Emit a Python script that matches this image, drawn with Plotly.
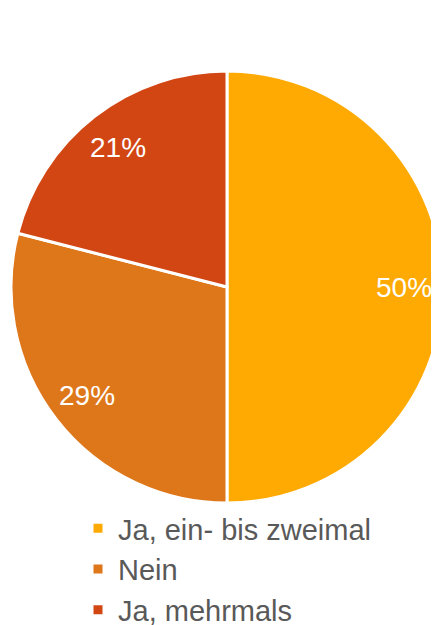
import math
import plotly.graph_objects as go

labels = ["Ja, ein- bis zweimal", "Nein", "Ja, mehrmals"]
values = [50, 29, 21]
colors = ["#FFAA02", "#DE771A", "#D24614"]

# figure taller than the window so the legend never pushes the margins
W, H = 439, 660
# pie geometry in figure pixels (page adds an 8px body margin)
cx_px, cy_px, R = 219, 279, 216

fig = go.Figure()
fig.add_trace(go.Pie(
    labels=labels,
    values=values,
    sort=False,
    direction="clockwise",
    rotation=0,
    marker=dict(colors=colors, line=dict(color="white", width=3)),
    textinfo="none",
    hoverinfo="label+percent",
    domain=dict(x=[(cx_px - R) / W, (cx_px + R) / W],
                y=[1 - (cy_px + R) / H, 1 - (cy_px - R) / H]),
))

# percentage labels placed along each slice's mid-angle
total = sum(values)
cum = 0
annotations = []
for v in values:
    mid = (cum + v / 2) / total
    cum += v
    th = 2 * math.pi * mid
    px = cx_px + 0.82 * R * math.sin(th)
    py = cy_px - 0.82 * R * math.cos(th)
    annotations.append(dict(
        x=px / W, y=1 - py / H, xref="paper", yref="paper",
        text=f"{round(100 * v / total)}%", showarrow=False,
        font=dict(family="Liberation Sans, Arial", size=28, color="white"),
        xanchor="center", yanchor="middle",
    ))

fig.update_layout(
    width=W, height=H,
    margin=dict(l=0, r=0, t=0, b=0),
    paper_bgcolor="white",
    plot_bgcolor="white",
    annotations=annotations,
    showlegend=True,
    legend=dict(
        x=70 / W, y=1 - 495 / H, xanchor="left", yanchor="top",
        orientation="v",
        font=dict(family="Liberation Sans, Arial", size=29, color="#595959"),
        bgcolor="rgba(0,0,0,0)",
        tracegroupgap=0,
    ),
)

fig.write_html("out.html")
